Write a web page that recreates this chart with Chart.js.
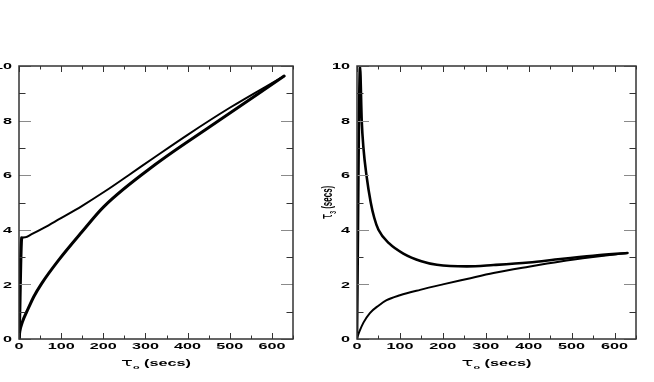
<!DOCTYPE html>
<html>
<head>
<meta charset="utf-8">
<script src="https://cdn.jsdelivr.net/npm/chart.js@4"></script>
<style>
  html, body { margin: 0; padding: 0; background: #fff; overflow: hidden; }
  #wrap { position: relative; width: 654px; height: 382px; }
  #wrap canvas { position: absolute; left: 0; top: 0; }
</style>
</head>
<body>
<div id="wrap">
  <canvas id="leftChart" width="654" height="382"></canvas>
  <canvas id="rightChart" width="654" height="382"></canvas>
</div>
<script>
// --- data ---
const xTickLabels = [0, 100, 200, 300, 400, 500, 600];
const yTickLabels = [0, 2, 4, 6, 8, 10];

// left panel
const leftUpperX = [0, 6, 15, 30, 60, 94, 150, 205, 260, 320, 400, 500, 629];
const leftUpperY = [0, 3.7, 3.73, 3.84, 4.08, 4.38, 4.88, 5.42, 6.0, 6.64, 7.48, 8.47, 9.63];
const leftLowerX = [0, 2, 8, 22, 35, 54, 94, 149, 202, 324, 450, 629];
const leftLowerY = [0, 0.28, 0.62, 1.12, 1.55, 2.04, 2.89, 3.92, 4.86, 6.4, 7.75, 9.63];

// right panel
const rightUpperX = [0, 7, 11, 15, 22, 32, 40, 50, 75, 108, 150, 186, 256, 318, 400, 474, 550, 630];
const rightUpperY = [0, 10, 8, 7, 6, 5, 4.45, 4, 3.5, 3.13, 2.85, 2.72, 2.66, 2.71, 2.8, 2.93, 3.05, 3.15];
const rightLowerX = [0, 2, 5, 15, 30, 50, 69, 100, 147, 200, 256, 318, 400, 474, 550, 630];
const rightLowerY = [0, 0.12, 0.25, 0.6, 0.95, 1.22, 1.42, 1.6, 1.8, 2.0, 2.2, 2.42, 2.65, 2.84, 3.0, 3.15];

const toPoints = (xs, ys) => xs.map((x, i) => ({ x: x, y: ys[i] }));

// the original lettering is a wide bold face; stretch Liberation Sans to match
const STRETCH = 1.8;
const LABEL_FONT = 'bold 9px "Liberation Sans", Arial, sans-serif';

function measureParts(ctx, parts) {
    let w = 0;
    parts.forEach(p => { ctx.font = p.font; p.w = ctx.measureText(p.t).width; w += p.w; });
    return w;
}

function wideText(ctx, str, x, y, align) {
    ctx.save();
    ctx.font = LABEL_FONT;
    const w = ctx.measureText(str).width * STRETCH;
    const x0 = align === 'center' ? x - w / 2 : (align === 'right' ? x - w : x);
    ctx.translate(x0, y);
    ctx.scale(STRETCH, 1);
    ctx.textAlign = 'left';
    ctx.textBaseline = 'alphabetic';
    ctx.fillText(str, 0, 0);
    ctx.restore();
}

const framePlugin = {
    id: 'frame',
    afterDatasetsDraw(chart, args, opts) {
        const ctx = chart.ctx;
        const a = chart.chartArea;
        const xs = chart.scales.x, ys = chart.scales.y;
        ctx.save();

        const seg = (x1, y1, x2, y2) => { ctx.beginPath(); ctx.moveTo(x1, y1); ctx.lineTo(x2, y2); ctx.stroke(); };

        // inward ticks, y every 1 (labels every 2) on both sides
        ctx.lineWidth = 1;
        for (let v = ys.min; v <= ys.max; v += 1) {
            const py = Math.round(ys.getPixelForValue(v)) + 0.5;
            const major = v % 2 === 0;
            const len = major ? 12 : 6.5;
            ctx.strokeStyle = major ? '#8a8a8a' : '#333';
            seg(a.left, py, a.left + len, py);
            seg(a.right - len, py, a.right, py);
        }
        // x every 50 (labels every 100), bottom and top
        for (let v = 0; v <= xs.max; v += 50) {
            const px = Math.round(xs.getPixelForValue(v)) + 0.5;
            const major = v % 100 === 0;
            const len = major ? 6 : 3.5;
            ctx.strokeStyle = '#333';
            seg(px, a.bottom, px, a.bottom - len);
            seg(px, a.top, px, a.top + len);
        }

        // frame
        ctx.strokeStyle = '#333';
        ctx.lineWidth = 1.5;
        ctx.strokeRect(a.left, a.top, a.right - a.left, a.bottom - a.top);

        // tick labels
        ctx.fillStyle = '#000';
        xTickLabels.forEach(v => wideText(ctx, String(v), xs.getPixelForValue(v), a.bottom + 10, 'center'));
        yTickLabels.forEach(v => wideText(ctx, String(v), a.left - 7, ys.getPixelForValue(v) + 3.2, 'right'));

        // x title: tau_o (secs)
        const xParts = [
            { t: '\u03c4', font: '11px "DejaVu Sans", sans-serif', dy: 0 },
            { t: 'o', font: 'bold 6px "Liberation Sans", Arial, sans-serif', dy: 2.5 },
            { t: ' (secs)', font: LABEL_FONT, dy: 0 }
        ];
        const xw = measureParts(ctx, xParts) * STRETCH;
        let cx = (a.left + a.right) / 2 - xw / 2;
        xParts.forEach(p => {
            ctx.save();
            ctx.font = p.font;
            ctx.translate(cx, a.bottom + 27 + p.dy);
            ctx.scale(STRETCH, 1);
            ctx.fillText(p.t, 0, 0);
            ctx.restore();
            cx += p.w * STRETCH;
        });

        // y title (right panel only): tau_3 (secs)
        if (opts.yTitle) {
            const yParts = [
                { t: '\u03c4', font: '9px "DejaVu Sans", sans-serif', dy: 0 },
                { t: '3', font: 'bold 5px "Liberation Sans", Arial, sans-serif', dy: 2 },
                { t: ' (secs)', font: 'bold 8px "Liberation Sans", Arial, sans-serif', dy: 0 }
            ];
            const yw = measureParts(ctx, yParts);
            ctx.save();
            ctx.translate(a.left - 30, (a.top + a.bottom) / 2);
            ctx.scale(STRETCH, 1);
            ctx.rotate(-Math.PI / 2);
            let cy = -yw / 2;
            yParts.forEach(p => {
                ctx.font = p.font;
                ctx.fillText(p.t, cy, 3 + p.dy);
                cy += p.w;
            });
            ctx.restore();
        }

        ctx.restore();
    }
};

function makePanel(id, pad, datasets, yTitle) {
    return new Chart(document.getElementById(id), {
        type: 'line',
        data: { datasets: datasets },
        options: {
            responsive: false,
            animation: false,
            layout: { padding: pad },
            elements: {
                point: { radius: 0 },
                line: {
                    cubicInterpolationMode: 'monotone', // smooth curves, no overshoot
                    borderColor: '#000', borderJoinStyle: 'round', borderCapStyle: 'round', fill: false
                }
            },
            plugins: {
                legend: { display: false },
                tooltip: { enabled: false },
                frame: { yTitle: yTitle }
            },
            scales: {
                x: {
                    type: 'linear', min: 0, max: 650,
                    grid: { display: false }, border: { display: false },
                    ticks: { display: false },
                    afterFit: s => { s.height = 0; }
                },
                y: {
                    min: 0, max: 10,
                    grid: { display: false }, border: { display: false },
                    ticks: { display: false },
                    afterFit: s => { s.width = 0; }
                }
            }
        },
        plugins: [framePlugin]
    });
}

document.addEventListener('DOMContentLoaded', function() {
    // --- left panel ---
    makePanel('leftChart', { left: 19, top: 66, right: 361, bottom: 43 }, [
        {
            data: toPoints(leftUpperX, leftUpperY),
            borderColor: '#000',
            borderWidth: 2,
            segment: { borderWidth: c => c.p0DataIndex === 0 ? 3.5 : undefined }
        },
        {
            data: toPoints(leftLowerX, leftLowerY),
            borderColor: '#000',
            borderWidth: 3
        }
    ], false);

    // --- right panel ---
    makePanel('rightChart', { left: 357, top: 66, right: 18, bottom: 43 }, [
        {
            data: toPoints(rightUpperX, rightUpperY),
            borderColor: '#000',
            borderWidth: 2.6
        },
        {
            data: toPoints(rightLowerX, rightLowerY),
            borderColor: '#000',
            borderWidth: 2
        }
    ], true);
});
</script>
</body>
</html>
